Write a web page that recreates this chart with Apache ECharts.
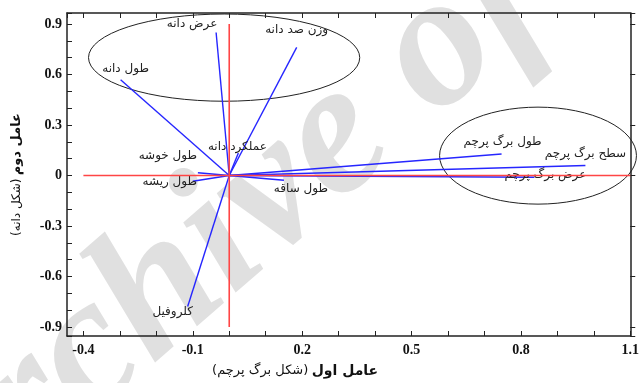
<!DOCTYPE html>
<html>
<head>
<meta charset="utf-8">
<script src="https://cdn.jsdelivr.net/npm/echarts@6/dist/echarts.min.js"></script>
<style>
  html, body { margin: 0; padding: 0; background: #fff; }
  #chart { width: 642px; height: 383px; }
</style>
</head>
<body>
<div id="chart"></div>
<script>
// variables and their loadings on the two factors
const varNames = ['عرض دانه', 'وزن صد دانه', 'طول دانه', 'عملکرد دانه', 'طول خوشه', 'طول ریشه', 'طول ساقه', 'کلروفیل', 'طول برگ پرچم', 'سطح برگ پرچم', 'عرض برگ پرچم']
const factor1 = [-0.036, 0.185, -0.298, 0.025, -0.086, -0.1, 0.15, -0.114, 0.747, 0.977, 0.837]
const factor2 = [0.849, 0.761, 0.569, 0.134, 0.016, -0.034, -0.028, -0.778, 0.128, 0.059, -0.01]

// group ellipses: center x, center y, radius x, radius y
const ellipses = [
  [-0.014, 0.70, 0.372, 0.259],
  [0.847, 0.118, 0.27, 0.288]
]

// red reference axes
const vLine = [[0, -0.9], [0, 0.9]]
const hLine = [[-0.4, 0], [1.1, 0]]

const xTickLabels = ['-0.4', '-0.1', '0.2', '0.5', '0.8', '1.1']
const yTickLabels = ['-0.9', '-0.6', '-0.3', '0', '0.3', '0.6', '0.9']

// label offsets from vector tips (px)
const labelOffsets = [[-24, -9], [0, -17], [5, -11], [-1, -6], [-30, -17], [-23, 1], [17, 9], [-15, 5], [1, -12], [0, -12], [11, -2]]

const arabicFont = '"DejaVu Sans"'
const numFont = '"Liberation Serif"'

function tickFormatter(list) {
  return function (v) {
    const s = String(Math.round(v * 10) / 10)
    return list.indexOf(s) >= 0 ? s : ''
  }
}

const frameLine = { onZero: false, lineStyle: { color: '#222', width: 1.5 } }

const option = {
  animation: false,
  backgroundColor: '#fff',
  grid: { left: 67, right: 8, top: 13, bottom: 44 },
  graphic: [
    {
      type: 'text',
      x: -95,
      y: 515,
      rotation: 41 * Math.PI / 180,
      z: -10,
      style: {
        text: 'Archive of SID',
        font: 'italic bold 190px "Liberation Serif"',
        fill: '#e0e0e0',
        verticalAlign: 'middle'
      }
    }
  ],
  xAxis: [
    {
      type: 'value',
      position: 'bottom',
      min: -0.445,
      max: 1.1,
      splitNumber: 15,
      minInterval: 0.1,
      maxInterval: 0.1,
      axisLine: frameLine,
      axisTick: { inside: true, length: 5, lineStyle: { color: '#222' } },
      splitLine: { show: false },
      axisLabel: {
        formatter: tickFormatter(xTickLabels),
        margin: 7,
        color: '#111',
        fontFamily: numFont,
        fontWeight: 'bold',
        fontSize: 14
      },
      name: '{n|(شکل برگ پرچم)} {b|عامل اول}',
      nameLocation: 'middle',
      nameGap: 28,
      nameTextStyle: {
        padding: [0, 107, 0, 0],
        color: '#111',
        rich: {
          b: { fontFamily: arabicFont, fontWeight: 'bold', fontSize: 14, color: '#111' },
          n: { fontFamily: arabicFont, fontSize: 13, color: '#111' }
        }
      }
    },
    {
      type: 'value',
      position: 'top',
      min: -0.445,
      max: 1.1,
      splitNumber: 15,
      minInterval: 0.1,
      maxInterval: 0.1,
      axisLine: frameLine,
      axisTick: { inside: true, length: 5, lineStyle: { color: '#222' } },
      splitLine: { show: false },
      axisLabel: { show: false }
    }
  ],
  yAxis: [
    {
      type: 'value',
      position: 'left',
      min: -0.953,
      max: 0.965,
      splitNumber: 19,
      minInterval: 0.1,
      maxInterval: 0.1,
      axisLine: frameLine,
      axisTick: { inside: true, length: 5, lineStyle: { color: '#222' } },
      splitLine: { show: false },
      axisLabel: {
        formatter: tickFormatter(yTickLabels),
        margin: 5,
        color: '#111',
        fontFamily: numFont,
        fontWeight: 'bold',
        fontSize: 14
      },
      name: '{n|(شکل دانه)} {b|عامل دوم}',
      nameLocation: 'middle',
      nameRotate: 90,
      nameGap: 44,
      nameTextStyle: {
        color: '#111',
        rich: {
          b: { fontFamily: arabicFont, fontWeight: 'bold', fontSize: 13, color: '#111' },
          n: { fontFamily: arabicFont, fontSize: 12, color: '#111' }
        }
      }
    },
    {
      type: 'value',
      position: 'right',
      min: -0.953,
      max: 0.965,
      splitNumber: 6,
      minInterval: 0.3,
      maxInterval: 0.3,
      axisLine: frameLine,
      axisTick: { inside: false, length: 5, lineStyle: { color: '#222' } },
      splitLine: { show: false },
      axisLabel: { show: false }
    }
  ],
  series: [
    {
      type: 'custom',
      name: 'ellipses',
      data: ellipses,
      silent: true,
      z: 3,
      renderItem: function (params, api) {
        const c = api.coord([api.value(0), api.value(1)])
        const s = api.size([api.value(2), api.value(3)])
        return {
          type: 'path',
          shape: {
            pathData: 'M0,1 A1,1 0 1,0 2,1 A1,1 0 1,0 0,1 Z',
            x: c[0] - s[0],
            y: c[1] - s[1],
            width: 2 * s[0],
            height: 2 * s[1],
            layout: 'cover'
          },
          style: { fill: 'none', stroke: '#222', lineWidth: 1 }
        }
      }
    },
    {
      type: 'custom',
      name: 'vectors',
      data: factor1.map((x, i) => [x, factor2[i]]),
      z: 4,
      renderItem: function (params, api) {
        const i = params.dataIndex
        const o = api.coord([0, 0])
        const p = api.coord([api.value(0), api.value(1)])
        const off = labelOffsets[i]
        return {
          type: 'group',
          children: [
            {
              type: 'line',
              shape: { x1: o[0], y1: o[1], x2: p[0], y2: p[1] },
              style: { stroke: '#2626ff', lineWidth: 1.4 }
            },
            {
              type: 'text',
              x: p[0] + off[0],
              y: p[1] + off[1],
              style: {
                text: varNames[i],
                fontFamily: arabicFont,
                fontSize: 12,
                fill: '#222',
                align: 'center',
                verticalAlign: 'middle'
              }
            }
          ]
        }
      }
    },
    {
      type: 'line',
      data: vLine,
      symbol: 'none',
      z: 5,
      lineStyle: { color: '#ff4545', width: 1.6 }
    },
    {
      type: 'line',
      data: hLine,
      symbol: 'none',
      z: 5,
      lineStyle: { color: '#ff4545', width: 1.6 }
    }
  ]
}

const chart = echarts.init(document.getElementById('chart'))
chart.setOption(option)
</script>
</body>
</html>
